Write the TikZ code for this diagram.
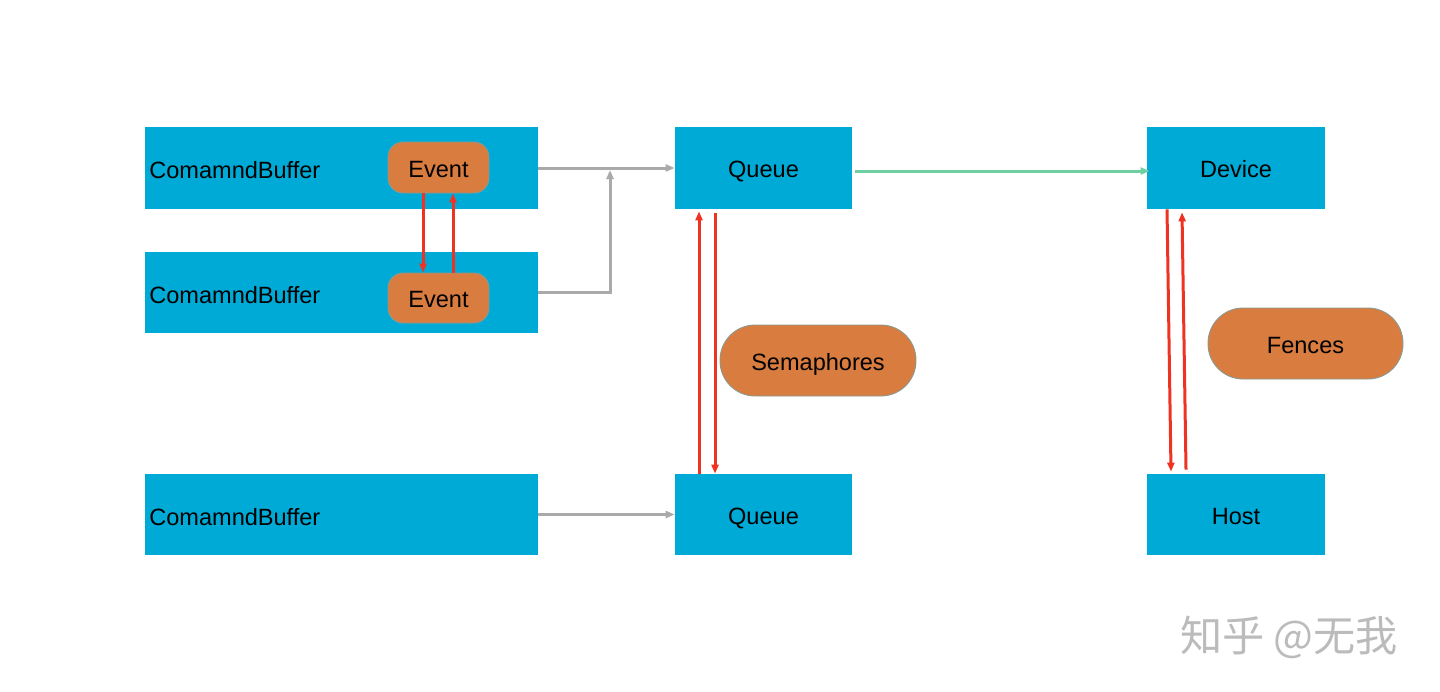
\documentclass[tikz,border=0pt]{standalone}
\usepackage{fontspec}
\setmainfont{Liberation Sans}
\newfontfamily\cjk{Noto Sans CJK SC}
\usetikzlibrary{arrows.meta}
\definecolor{boxblue}{HTML}{00AAD6}
\definecolor{boxorange}{HTML}{D87C40}
\definecolor{orangeedge}{HTML}{8A9A90}
\definecolor{linegray}{HTML}{AAAAAA}
\definecolor{linegreen}{HTML}{6ED0A2}
\definecolor{linered}{HTML}{EE3322}
\definecolor{wmgray}{HTML}{BBBBBB}
\begin{document}
\begin{tikzpicture}[x=0.02cm,y=-0.02cm,
  font=\fontsize{13.4pt}{16pt}\selectfont,
  every node/.style={text height=0.38cm,text depth=0pt},
  bluebox/.style={fill=boxblue,draw=none,minimum height=1.64cm,inner sep=0pt},
  orangebox/.style={fill=boxorange,draw=orangeedge,line width=0.5pt,inner sep=0pt},
  tip/.style={-{Triangle[length=0.18cm,width=0.14cm]}},
  grayline/.style={draw=linegray,line width=0.06cm},
  greenline/.style={draw=linegreen,line width=0.06cm},
  redline/.style={draw=linered,line width=0.06cm},
  lbl/.style={inner sep=0pt,anchor=west}]
\useasboundingbox (0,0) rectangle (1440,691);
% command buffers
\node[bluebox,minimum width=7.86cm] (cb1) at (341.5,168) {};
\node[bluebox,minimum width=7.86cm,minimum height=1.62cm] (cb2) at (341.5,292.5) {};
\node[bluebox,minimum width=7.86cm,minimum height=1.62cm] (cb3) at (341.5,514.5) {};
\node[lbl] (cb1t) at (149,168.5) {ComamndBuffer};
\node[lbl] (cb2t) at (149,293.5) {ComamndBuffer};
\node[lbl] (cb3t) at (149,515.5) {ComamndBuffer};
% queues, device, host
\node[bluebox,minimum width=3.54cm] (q1) at (763.5,168) {Queue};
\node[bluebox,minimum width=3.54cm,minimum height=1.62cm] (q2) at (763.5,514.5) {Queue};
\node[bluebox,minimum width=3.56cm] (dev) at (1236,168) {Device};
\node[bluebox,minimum width=3.56cm,minimum height=1.62cm] (host) at (1236,514.5) {Host};
% events
\node[orangebox,minimum width=2.02cm,minimum height=1.02cm,rounded corners=0.3cm] (e1) at (438.5,167.5) {Event};
\node[orangebox,minimum width=2.02cm,minimum height=1.0cm,rounded corners=0.3cm] (e2) at (438.5,298) {Event};
% semaphores, fences
\node[orangebox,minimum width=3.92cm,minimum height=1.42cm,rounded corners=0.7cm] (sem) at (818,360.5) {Semaphores};
\node[orangebox,minimum width=3.9cm,minimum height=1.42cm,rounded corners=0.7cm] (fen) at (1305.5,343.5) {Fences};
% gray connectors
\coordinate (j) at (610,170);
\draw[grayline,tip] (cb1.east) -- (q1.west);
\draw[grayline,tip] (cb2.east) -| (j);
\draw[grayline,tip] (cb3.east) -- (q2.west);
% green connector
\draw[greenline,tip] ([xshift=0.06cm,yshift=-0.06cm]q1.east) -- ([xshift=0.06cm,yshift=-0.06cm]dev.west);
% red connectors between events
\draw[redline,tip] ([xshift=-0.31cm]e1.south) -- ([xshift=-0.31cm]e2.north);
\draw[redline,tip] ([xshift=0.29cm]e2.north) -- ([xshift=0.29cm]e1.south);
% red connectors between queues
\draw[redline,tip] ([xshift=-1.29cm]q2.north) -- ([xshift=-1.29cm,yshift=-0.04cm]q1.south);
\draw[redline,tip] ([xshift=-0.97cm,yshift=-0.08cm]q1.south) -- ([xshift=-0.97cm]q2.north);
% red connectors between device and host
\draw[redline,tip] ([xshift=-1.38cm]dev.south) -- ([xshift=-1.30cm,yshift=0.04cm]host.north);
\draw[redline,tip] ([xshift=-1.0cm,yshift=0.08cm]host.north) -- ([xshift=-1.08cm,yshift=-0.06cm]dev.south);
% watermark
\node[text=wmgray,font=\cjk\fontsize{24pt}{27pt}\selectfont,inner sep=0pt,text height=0.72cm,text depth=0pt] (wm) at (1289,633) {知乎 @无我};
\end{tikzpicture}
\end{document}
